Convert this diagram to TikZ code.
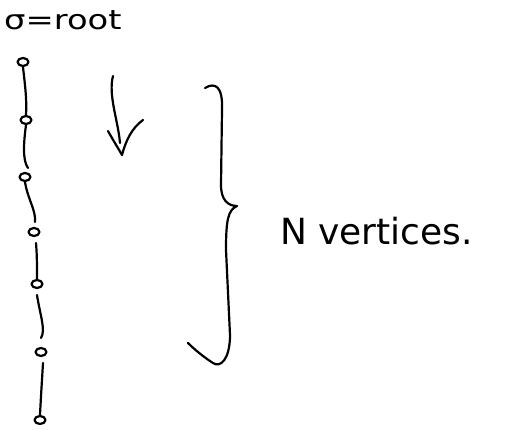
\documentclass[tikz,border=0pt]{standalone}
\usepackage{fontspec}
\usetikzlibrary{shapes.geometric}
\setmainfont{DejaVu Sans}
\begin{document}
\begin{tikzpicture}[x=1pt,y=-1pt,
  ink/.style={line width=2.2pt,line cap=round,line join=round,black},
  vertex/.style={draw,ink,ellipse,minimum width=11pt,minimum height=8pt,inner sep=0pt},
  chain/.style={ink}
]
\useasboundingbox (0,0) rectangle (528,430);
% label sigma = root
\node[anchor=west,font=\fontsize{27}{30}\selectfont,inner sep=0pt,xscale=1.25] (root) at (4,20) {σ=root};
% vertices
\node[vertex] (v1) at (23,62) {};
\node[vertex] (v2) at (26,120) {};
\node[vertex] (v3) at (25,177) {};
\node[vertex] (v4) at (34,232) {};
\node[vertex] (v5) at (37,284) {};
\node[vertex] (v6) at (41,352) {};
\node[vertex] (v7) at (40,420) {};
% chain edges
\draw[chain] (v1.south) .. controls (25,85) and (27,100) .. (v2.north);
\draw[chain] (v2.south) .. controls (24,140) and (22,160) .. (28,168);
\draw[chain] (v3.south) .. controls (28,200) and (36,210) .. (35,222);
\draw[chain] (36,243) .. controls (37,255) and (37,265) .. (v5.north);
\draw[chain] (37,295) .. controls (40,315) and (46,330) .. (41,338);
\draw[chain] (43,363) .. controls (42,380) and (41,395) .. (v7.north);
% arrow
\coordinate (a0) at (113,76);
\coordinate (tip) at (122,155);
\draw[ink] (a0) .. controls (108,95) and (118,120) .. (120,143);
\draw[ink] (108,131) .. controls (113,140) and (118,148) .. (tip) .. controls (126,140) and (132,128) .. (143,120);
% brace
\coordinate (b1) at (205,88);
\coordinate (bt) at (237,206);
\coordinate (b2) at (188,343);
\draw[ink] (b1) .. controls (215,82) and (223,86) .. (222,110)
  -- (221,185) .. controls (221,200) and (228,206) .. (bt)
  .. controls (228,210) and (226,220) .. (226,250)
  -- (230,335) .. controls (230,360) and (220,368) .. (213,363)
  .. controls (205,358) and (195,350) .. (b2);
% label
\node[anchor=base west,font=\fontsize{36}{40}\selectfont,inner sep=0pt] (lbl) at (280,245) {N vertices.};
\end{tikzpicture}
\end{document}
